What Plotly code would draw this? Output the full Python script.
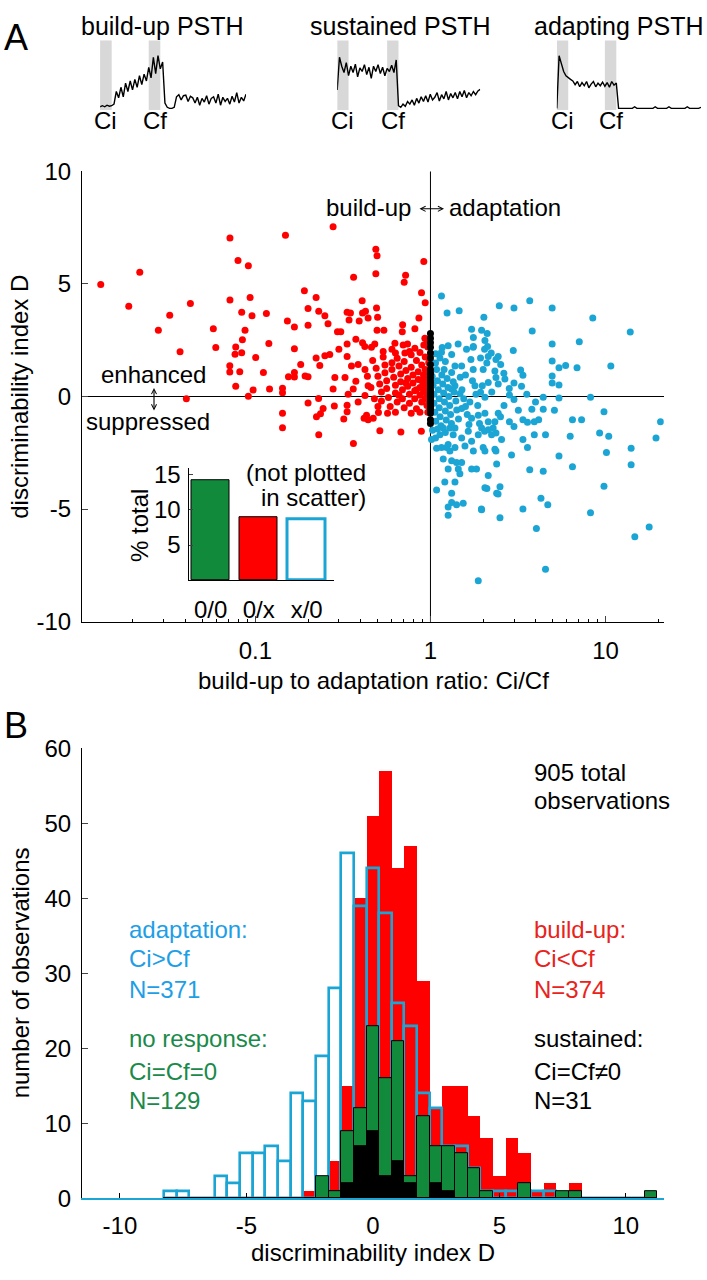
import plotly.graph_objects as go

W, H = 707, 1280
FONT = "Liberation Sans, Arial, Helvetica, sans-serif"
RED = "#ff0000"
BLUE = "#1ba5d4"
GREEN = "#128a3c"
BLUE_TXT = "#1e9ee6"
RED_TXT = "#e8231c"
GREEN_TXT = "#1a8a4a"

# ---------------- PSTH insets (normalised firing, one value per time bin) ----------------
BUILDUP_PSTH = [0.03, 0.05, 0.03, 0.06, 0.04, 0.05,
                0.08, 0.32, 0.2, 0.4, 0.22, 0.48, 0.32, 0.52, 0.35, 0.55, 0.4, 0.62, 0.45, 0.65, 0.52,
                0.78, 0.58, 0.97, 0.66, 1.0, 0.75,
                0.88, 0.1, 0.02, 0.0, 0.0, 0.02,
                0.22, 0.26, 0.16, 0.24, 0.25, 0.13, 0.23, 0.2, 0.1, 0.21, 0.06, 0.19, 0.12, 0.24, 0.08,
                0.19, 0.22, 0.1, 0.27, 0.06, 0.21, 0.13, 0.19, 0.08, 0.23, 0.12, 0.3, 0.1, 0.21, 0.14, 0.27]
SUSTAINED_PSTH = [0.35, 0.97,
                  0.8, 0.68, 0.87, 0.62, 0.8, 0.68, 0.84, 0.6, 0.77, 0.7, 0.83, 0.64, 0.78, 0.57, 0.8,
                  0.7, 0.83, 0.66, 0.78, 0.62, 0.76, 0.7, 0.82, 0.68, 0.92,
                  0.05, 0.02,
                  0.08, 0.04, 0.13, 0.08, 0.16, 0.06, 0.19, 0.1, 0.22, 0.13, 0.24, 0.12, 0.27, 0.16, 0.21,
                  0.3, 0.14, 0.26, 0.18, 0.32, 0.16, 0.28, 0.2, 0.3, 0.18, 0.32, 0.22, 0.34, 0.2, 0.3,
                  0.24, 0.32, 0.26, 0.33, 0.36]
ADAPTING_PSTH = [0.0, 1.0, 0.85, 0.7, 0.62, 0.58, 0.55,
                 0.52, 0.45, 0.51, 0.41, 0.49, 0.43, 0.51, 0.39, 0.46, 0.51, 0.41, 0.48, 0.43, 0.5, 0.42,
                 0.49, 0.4, 0.51, 0.44, 0.48,
                 0.0,
                 0, 0, 0, 0, 0, 0, 0.03, 0, 0, 0, 0, 0, 0, 0, 0, 0.03, 0, 0, 0, 0, 0, 0.03, 0, 0, 0, 0,
                 0, 0, 0, 0.03, 0, 0, 0, 0, 0, 0.02]
PSTH_TITLES = ["build-up PSTH", "sustained PSTH", "adapting PSTH"]
CI_WINDOWS = [(0, 5), (0, 5), (0, 5)]
CF_WINDOWS = [(21, 26), (22, 27), (21, 26)]

# ---------------- Scatter: log10(Ci/Cf) and discriminability D ----------------
RED_LOGRATIO = [-1.883, -1.66, -1.723, -1.371, -1.489, -1.554, -1.24, -1.43, -1.226, -1.394,
                -1.145, -0.828, -1.099, -1.04, -1.145, -1.03, -0.72, -0.653, -1.078, -1.019, -0.937,
                -0.699, -0.638, -1.059, -0.817, -0.777, -0.699, -1.074, -1.112, -0.923, -1.116,
                -1.078, -0.777, -0.998, -0.653, -1.146, -1.146, -1.089, -0.954, -0.741, -0.811,
                -0.777, -0.777, -0.716, -0.699, -0.632, -1.112, -1.013, -0.919, -0.845, -0.845,
                -1.04, -0.639, -0.699, -0.845, -0.845, -0.651, -0.628, -0.638,
                -0.44, -0.549, -0.495, -0.379, -0.327, -0.297, -0.245, -0.052,
                -0.556, -0.312, -0.305, -0.038, -0.439, -0.312, -0.142, -0.15, -0.051, -0.03,
                -0.603, -0.585, -0.476, -0.457, -0.465, -0.407, -0.388, -0.371, -0.356, -0.308,
                -0.302, -0.39, -0.066, -0.159, -0.161, -0.089, -0.305, -0.266, -0.531, -0.512,
                -0.426, -0.476, -0.388, -0.375, -0.337, -0.318, -0.523, -0.575, -0.603, -0.203,
                -0.156, -0.131, -0.089, -0.038, -0.032, -0.2, -0.146, -0.546, -0.556, -0.613,
                -0.476, -0.476, -0.426, -0.365, -0.356, -0.289, -0.169,
                -0.476, -0.451, -0.413, -0.374, -0.488, -0.441, -0.374, -0.356, -0.413, -0.47,
                -0.33, -0.31, -0.3, -0.29, -0.28, -0.28, -0.27, -0.26, -0.25, -0.25, -0.24, -0.23,
                -0.22, -0.22, -0.21, -0.2, -0.2, -0.19, -0.19, -0.18, -0.17, -0.17, -0.16, -0.16,
                -0.15, -0.15, -0.14, -0.13, -0.13, -0.12, -0.12, -0.11, -0.11, -0.1, -0.1, -0.09,
                -0.09, -0.08, -0.08, -0.07, -0.07, -0.06, -0.06, -0.05, -0.05, -0.04, -0.04, -0.04,
                -0.03, -0.03, -0.03, -0.02, -0.02, -0.02, -0.02, -0.01, -0.01, -0.01, -0.01, -0.01,
                -0.34, -0.32, -0.3, -0.36, -0.27, -0.22, -0.12, -0.06, -0.015, -0.02, -0.11, -0.2,
                -0.06, -0.015, -0.26, -0.18, -0.14, -0.08, -0.05, -0.035]
RED_D = [4.97, 5.52, 4.01, 4.13, 3.61, 2.94, 3.01, 1.99, 2.17, -0.1,
         7.04, 7.16, 6.04, 5.8, 4.28, 4.4, 4.7, 4.4, 3.74, 3.58, 3.68,
         3.91, 3.78, 2.94, 3.35, 3.09, 3.16, 2.52, 2.2, 2.35, 1.88,
         1.94, 2.12, 1.73, 1.71, 1.36, 1.09, 1.1, 1.06, 1.42, 0.88,
         1.06, 0.86, 0.91, 0.87, 1.38, 0.45, 0.29, 0.33, 0.36, 0.16,
         0.01, -0.09, -0.29, -0.75, -1.39, -0.9, -0.77, -1.7,
         -2.09, -0.42, -1.0, -0.97, -0.97, -0.71, -0.75, -1.55,
         7.54, 6.54, 6.25, 5.99, 5.3, 5.45, 5.38, 5.07, 4.61, 4.16,
         3.59, 3.23, 3.74, 3.71, 3.4, 3.35, 3.71, 3.78, 3.49, 3.93,
         3.52, 4.25, 3.48, 3.19, 2.87, 3.01, 2.94, 2.94, 2.87, 2.87,
         2.54, 2.33, 2.39, 2.22, 2.19, 2.33, 2.1, 1.86, 1.81, 2.36,
         2.29, 2.33, 2.14, 2.29, 2.58, 1.93, 1.93, 0.84, 0.33, -0.53,
         -0.39, -0.68, 0.67, -0.83, -1.04, -1.52, -1.58,
         1.78, 1.35, 1.42, 1.2, 0.84, 0.33, 0.04, 0.48, -0.25, 0.1,
         1.6, 1.25, 0.9, 0.55, 0.2, -0.2, 1.75, 1.05, 0.7, 0.35, -0.05, -0.45,
         1.5, 1.2, 0.85, 0.5, 0.15, -0.25, 1.7, 1.35, 1.0, 0.65, 0.3, -0.1,
         -0.5, 1.55, 1.15, 0.8, 0.45, 0.1, -0.3, 1.85, 1.3, 0.95, 0.6, 0.25,
         -0.1, -0.55, 1.6, 1.1, 0.75, 0.4, 0.05, -0.25, 1.4, 0.95, 0.55, 0.2,
         -0.1, 1.75, 1.2, 0.8, 0.35, 0.0, -0.4, 1.5, 1.0, 0.6, 0.15, -0.2,
         0.4, -0.1, -0.45, 0.9, 2.0, 2.1, 2.0, 1.95, 2.2, 2.5, -0.75, -0.7,
         -0.7, -0.7, 1.4, 0.05, 0.6, 0.3, 0.7, 0.45]

BLUE_LOGRATIO = [0.063, 0.393, 0.095, 0.164, 0.305, 0.235, 0.292, 0.324, 0.158, 0.101, 0.067,
                 0.121, 0.063, 0.206, 0.244, 0.311, 0.326, 0.33, 0.387, 0.401, 0.368, 0.419,
                 0.029, 0.054, 0.078, 0.121, 0.14, 0.178, 0.231, 0.244, 0.286, 0.301, 0.33,
                 0.387, 0.14, 0.121, 0.169, 0.225, 0.286, 0.254, 0.311, 0.178, 0.235, 0.273,
                 0.311, 0.33, 0.368, 0.387, 0.358, 0.029, 0.054, 0.063, 0.101, 0.14, 0.178,
                 0.197, 0.235, 0.301, 0.368,
                 0.006, 0.073, 0.111, 0.14, 0.216, 0.292, 0.273, 0.33, 0.349, 0.035, 0.092,
                 0.111, 0.073, 0.121, 0.149, 0.178, 0.159, 0.101, 0.168, 0.235, 0.263, 0.33,
                 0.311, 0.378, 0.406, 0.397, 0.311, 0.378, 0.082, 0.14, 0.035, 0.121, 0.121,
                 0.149, 0.187, 0.101, 0.101, 0.292, 0.397, 0.273,
                 0.477, 0.734, 0.502, 0.579, 0.644, 0.708, 0.811, 0.863, 0.991, 1.314, 0.528,
                 0.554, 0.593, 0.618, 0.4, 0.451, 0.477, 0.374, 0.309, 0.593, 0.657, 0.528,
                 0.798, 0.966, 1.018, 1.288, 0.245, 0.374, 0.463, 0.554, 0.734, 1.005, 1.146,
                 1.146, 0.567, 0.644, 0.811, 0.322, 0.386, 0.631, 0.991, 0.67, 0.291, 0.528,
                 0.914, 0.605, 1.249, 1.167, 0.657,
                 0.477, 0.567, 0.695, 0.927, 1.141, 0.85, 0.695, 0.245, 0.473, 0.581, 0.695,
                 0.734, 0.772, 0.837, 1.03, 0.515, 0.528, 0.477, 0.695, 0.695, 0.734, 0.322,
                 0.374, 0.347, 0.309, 0.245, 0.374, 0.425, 0.296, 0.644, 0.914, 0.451,
                 0.01, 0.015, 0.02, 0.02, 0.025, 0.03, 0.035, 0.04, 0.045, 0.05, 0.05, 0.055,
                 0.06, 0.065, 0.07, 0.075, 0.08, 0.085, 0.09, 0.095, 0.1, 0.105, 0.11, 0.115,
                 0.12, 0.13, 0.135, 0.145, 0.15, 0.16, 0.17, 0.18, 0.19, 0.2, 0.21, 0.22, 0.24,
                 0.26, 0.27, 0.28, 0.012, 0.04, 0.085, 0.13, 0.01, 0.03, 0.085, 0.2, 0.35, 0.42,
                 0.45, 0.55, 0.6, 0.52]
BLUE_D = [4.46, 4.03, 3.71, 3.81, 3.52, 2.99, 2.94, 2.8, 2.33, 2.25, 2.17,
          1.86, 1.96, 2.1, 2.19, 2.48, 2.22, 1.78, 1.78, 1.42, 1.13, 1.03,
          1.49, 1.71, 1.2, 1.06, 1.35, 1.35, 1.64, 1.2, 1.71, 1.2, 0.62,
          0.55, 0.48, 0.33, 0.12, -0.25, 0.19, 0.48, -0.03, -0.53, -0.97, -0.83,
          -0.75, -1.12, -1.12, -0.75, -1.4, -1.84, -1.7, -2.27, -2.13, -2.27, -1.84,
          -2.2, -1.99, -2.27, -2.35,
          -1.91, -1.4, -1.4, -1.4, -1.55, -1.4, -1.7, -1.48, -1.7, -2.3, -2.27,
          -2.42, -2.78, -2.86, -2.93, -2.93, -3.22, -3.22, -3.43, -3.22, -3.22, -3.51,
          -2.42, -3.0, -1.91, -4.01, -4.06, -4.3, -3.8, -3.8, -4.16, -4.3, -4.71,
          -4.81, -4.74, -4.91, -5.28, -5.03, -5.39, -8.19,
          -0.13, -0.07, -0.61, -0.57, -0.57, -0.61, -1.04, -1.04, -0.68, -1.12, -1.04,
          -1.14, -1.12, -1.04, -0.9, -1.12, -1.33, -1.62, -1.55, -1.7, -1.7, -1.91,
          -1.77, -1.62, -1.77, -1.84, -2.42, -2.42, -2.6, -2.27, -2.64, -2.49, -2.3,
          -3.03, -3.26, -3.32, -3.12, -4.09, -4.33, -4.52, -3.99, -4.81, -5.0, -5.0,
          -5.17, -5.86, -5.8, -6.23, -7.67,
          3.93, 4.25, 3.93, 3.48, 2.86, 2.43, 2.33, 2.62, 2.04, 2.91, 1.57,
          1.28, 1.38, 1.28, 1.35, 1.17, 0.94, 0.6, 0.91, 0.6, 0.51, 1.49,
          1.64, 1.93, 2.1, 2.22, 0.84, 0.77, 0.48, -0.03, -0.03, 0.07,
          0.9, 0.5, 0.1, -0.3, -0.7, -1.1, 1.2, 0.7, 0.3, -0.1, -0.5, -0.9,
          -1.3, 0.95, 0.55, 0.15, -0.25, -0.65, -1.05, 0.8, 0.4, 0.0, -0.4, -0.8,
          -1.2, 0.65, 0.2, -0.2, -0.6, -1.0, 0.85, 0.3, -0.1, -0.45, -0.8, -1.25, 0.7,
          0.1, -0.4, -1.2, -1.5, -1.45, -1.6, -1.7, 1.5, 1.9, 1.55, 0.95, 0.2, -0.4,
          0.35, 0.1, -0.25, 0.45]

SUSTAINED_RATIO = 1.0
BLACK_D = [2.8, 2.58, 2.39, 2.19, 1.93, 1.71, 1.42, 1.2, 0.99, 0.84, 0.7, 0.48, 0.33, 0.19,
           0.04, -0.1, -0.25, -0.39, -0.54, -0.75, -1.04, -1.2, -0.6, -0.45, -0.3, -0.15,
           0.1, 0.25, 0.6, 1.05, 0.0]

# ---------------- Inset bar chart (% of total, not plotted in scatter) ----------------
INSET_CATS = ["0/0", "0/x", "x/0"]
INSET_PCT = [14.25, 9.0, 8.7]

# ---------------- Histogram of D ----------------
BIN_WIDTH = 0.5
BIN_CENTERS = [-8.0, -7.5, -7.0, -6.5, -6.0, -5.5, -5.0, -4.5, -4.0, -3.5, -3.0, -2.5, -2.0,
               -1.5, -1.0, -0.5, 0.0, 0.5, 1.0, 1.5, 2.0, 2.5, 3.0, 3.5, 4.0, 4.5, 5.0, 5.5,
               6.0, 6.5, 7.0, 7.5, 8.0, 8.5, 9.0, 9.5, 10.0, 10.5, 11.0]
ADAPT_COUNTS = [1, 1, 0, 0, 3, 2, 6, 6, 7, 5, 14, 13, 19, 28, 46, 39, 44, 38, 26, 23,
                14, 12, 7, 7, 4, 1, 1, 1, 1, 1, 1, 0, 0, 0, 0, 0, 0, 0, 0]
BUILD_COUNTS = [0, 0, 0, 0, 0, 0, 0, 0, 0, 0, 0, 1, 1, 5, 15, 40, 51, 57, 44, 47,
                29, 12, 15, 15, 11, 8, 3, 8, 6, 1, 2, 1, 2, 0, 0, 0, 0, 0, 0]
NORESP_COUNTS = [0, 0, 0, 0, 0, 0, 0, 0, 0, 0, 0, 0, 3, 1, 9, 12, 23, 16, 21, 3,
                 11, 7, 7, 6, 4, 1, 0, 0, 2, 0, 0, 1, 1, 0, 0, 0, 0, 0, 1]
SUST_COUNTS = [0, 0, 0, 0, 0, 0, 0, 0, 0, 0, 0, 0, 0, 0, 2, 7, 9, 3, 5, 2,
               0, 2, 1, 0, 0, 0, 0, 0, 0, 0, 0, 0, 0, 0, 0, 0, 0, 0, 0]

SCATTER_YTICKS = [-10, -5, 0, 5, 10]
HIST_XTICKS = [-10, -5, 0, 5, 10]
HIST_YTICKS = [0, 10, 20, 30, 40, 50, 60]


def fx(p):
    return p / W


def fy(p):
    return 1 - p / H


def lbl(v):
    return str(v)  # plain hyphen for negatives, as in the original


fig = go.Figure()

# PSTH traces
psth_axes = [("x3", "y3"), ("x4", "y4"), ("x5", "y5")]
for data, (xa, ya) in zip([BUILDUP_PSTH, SUSTAINED_PSTH, ADAPTING_PSTH], psth_axes):
    fig.add_trace(go.Scatter(x=list(range(len(data))), y=data, mode="lines",
                             line=dict(color="black", width=1.4), xaxis=xa, yaxis=ya,
                             hoverinfo="skip"))

# Scatter
fig.add_trace(go.Scatter(x=[10 ** v for v in RED_LOGRATIO], y=RED_D, mode="markers",
                         marker=dict(color=RED, size=7, line=dict(width=0)), xaxis="x", yaxis="y"))
fig.add_trace(go.Scatter(x=[10 ** v for v in BLUE_LOGRATIO], y=BLUE_D, mode="markers",
                         marker=dict(color=BLUE, size=7, line=dict(width=0)), xaxis="x", yaxis="y"))
fig.add_trace(go.Scatter(x=[SUSTAINED_RATIO] * len(BLACK_D), y=BLACK_D, mode="markers",
                         marker=dict(color="black", size=7, line=dict(width=0)), xaxis="x", yaxis="y"))

# Inset bars
fig.add_trace(go.Bar(x=[1, 2, 3], y=INSET_PCT, width=0.8,
                     marker=dict(color=[GREEN, RED, "white"],
                                 line=dict(color=["black", "black", BLUE], width=[1, 1, 3])),
                     xaxis="x6", yaxis="y6"))

# Histogram
fig.add_trace(go.Bar(x=BIN_CENTERS, y=BUILD_COUNTS, width=BIN_WIDTH,
                     marker=dict(color=RED, line=dict(width=0)), xaxis="x2", yaxis="y2"))
fig.add_trace(go.Bar(x=BIN_CENTERS, y=ADAPT_COUNTS, width=BIN_WIDTH,
                     marker=dict(color="rgba(0,0,0,0)", line=dict(color=BLUE, width=2.6)),
                     xaxis="x2", yaxis="y2"))
fig.add_trace(go.Bar(x=BIN_CENTERS, y=NORESP_COUNTS, width=BIN_WIDTH,
                     marker=dict(color=GREEN, line=dict(color="black", width=1)),
                     xaxis="x2", yaxis="y2"))
fig.add_trace(go.Bar(x=BIN_CENTERS, y=SUST_COUNTS, width=BIN_WIDTH,
                     marker=dict(color="black", line=dict(color="black", width=1)),
                     xaxis="x2", yaxis="y2"))

tickfont = dict(family=FONT, size=24, color="black")

minor_vals = ([k / 100 for k in range(2, 10)] + [k / 10 for k in range(2, 10)]
              + list(range(2, 10)) + [20])

layout = dict(
    width=W, height=H, margin=dict(l=0, r=0, t=0, b=0),
    paper_bgcolor="white", plot_bgcolor="rgba(0,0,0,0)",
    showlegend=False, barmode="overlay", bargap=0,
    font=dict(family=FONT, size=24, color="black"),
    xaxis=dict(domain=[fx(82), fx(663.7)], anchor="y", type="log", range=[-1.99, 1.332],
               tickvals=[0.1, 1, 10], ticktext=["0.1", "1", "10"], ticks="inside", ticklen=6,
               minor=dict(tickvals=minor_vals, ticks="inside", ticklen=3, tickcolor="black"),
               showline=True, linecolor="black", linewidth=1, showgrid=False, zeroline=False,
               tickfont=tickfont, ticklabelstandoff=8),
    yaxis=dict(domain=[fy(620.7), fy(160.7)], anchor="x", range=[-10, 10],
               tickvals=SCATTER_YTICKS, ticktext=[lbl(v) for v in SCATTER_YTICKS],
               ticks="inside", ticklen=6, showline=True,
               linecolor="black", linewidth=1, showgrid=False, zeroline=True,
               zerolinecolor="black", zerolinewidth=1, tickfont=tickfont, ticklabelstandoff=5),
    xaxis2=dict(domain=[fx(82), fx(663.7)], anchor="y2", range=[-11.5, 11.5],
                tickvals=HIST_XTICKS, ticktext=[lbl(v) for v in HIST_XTICKS],
                ticks="inside", ticklen=5, tickcolor="black",
                showline=True, linecolor=BLUE, linewidth=2, showgrid=False, zeroline=False,
                tickfont=tickfont, ticklabelstandoff=5),
    yaxis2=dict(domain=[fy(1210), fy(750)], anchor="x2", range=[0, 60],
                tickvals=HIST_YTICKS, ticks="inside", ticklen=6, showline=True,
                linecolor="black", linewidth=1, showgrid=False, zeroline=False,
                tickfont=tickfont, ticklabelstandoff=5),
    xaxis6=dict(domain=[fx(188.5), fx(333.6)], anchor="y6", range=[0.54, 3.56],
                tickvals=[1, 2, 3], ticktext=INSET_CATS, ticks="", showline=True,
                linecolor="black", linewidth=1, showgrid=False, zeroline=False,
                tickfont=tickfont, ticklabelstandoff=8),
    yaxis6=dict(domain=[fy(578.5), fy(464)], anchor="x6", range=[0, 15.9],
                tickvals=[5, 10, 15], ticks="inside", ticklen=4, showline=True,
                linecolor="black", linewidth=1, showgrid=False, zeroline=False,
                tickfont=tickfont, ticklabelstandoff=2),
)
psth_px = [(100.1, 246), (337.2, 480.2), (556.8, 701)]
for i, (x0, x1) in enumerate(psth_px):
    n = 3 + i
    layout[f"xaxis{n}"] = dict(domain=[fx(x0), fx(x1)], anchor=f"y{n}", range=[0, 63],
                               visible=False)
    layout[f"yaxis{n}"] = dict(domain=[fy(98), fy(27)], anchor=f"x{n}", range=[-0.03, 1.29],
                               visible=False)
fig.update_layout(**layout)

shapes = []
for i in range(3):
    n = 3 + i
    for (a, b) in (CI_WINDOWS[i], CF_WINDOWS[i]):
        shapes.append(dict(type="rect", xref=f"x{n}", yref=f"y{n} domain", x0=a, x1=b,
                           y0=0, y1=1, fillcolor="#d8d8d8", line=dict(width=0), layer="below"))
shapes.append(dict(type="line", xref="x", yref="y", x0=SUSTAINED_RATIO, x1=SUSTAINED_RATIO,
                   y0=-10, y1=10, line=dict(color="black", width=1), layer="below"))
fig.update_layout(shapes=shapes)

ann = []


def text(s, x, y, size=24, color="black", xanchor="center", angle=0, xref="paper", xv=None):
    ann.append(dict(text=s, x=(fx(x) if xv is None else xv), y=fy(y), xref=xref, yref="paper",
                    xanchor=xanchor, yanchor="middle", showarrow=False, textangle=angle,
                    font=dict(family=FONT, size=size, color=color)))


def double_arrow(x0, y0, x1, y1):
    # two-headed thin arrow; head at (x1, y1), tail offset given in screen pixels
    ann.append(dict(text="", x=fx(x1), y=fy(y1), xref="paper", yref="paper",
                    ax=x0 - x1, ay=y0 - y1, showarrow=True,
                    arrowhead=5, startarrowhead=5, arrowside="end+start", arrowsize=0.9,
                    startarrowsize=0.9, arrowwidth=1.1, arrowcolor="black",
                    standoff=0, startstandoff=0))


text("A", 2, 24, size=36, xanchor="left")
text("B", 2, 727, size=36, xanchor="left")
text(PSTH_TITLES[0], 79, 12, size=25, xanchor="left")
text(PSTH_TITLES[1], 308, 12, size=25, xanchor="left")
text(PSTH_TITLES[2], 532, 12, size=25, xanchor="left")
for i in range(3):
    n = 3 + i
    ci = CI_WINDOWS[i]
    cf = CF_WINDOWS[i]
    text("Ci", 0, 109, xref=f"x{n}", xv=(ci[0] + ci[1]) / 2)
    text("Cf", 0, 109, xref=f"x{n}", xv=(cf[0] + cf[1]) / 2)

text("build-up", 413, 198, xanchor="right")
double_arrow(418, 199, 444, 199)
text("adaptation", 447, 198, xanchor="left")
text("enhanced", 153, 368)
double_arrow(154, 381, 154, 405)
text("suppressed", 148, 416)
text("(not plotted", 368, 468, xanchor="right")
text("in scatter)", 368, 494, xanchor="right")
text("% total", 140, 523, angle=-90)
text("discriminability index D", 20, 391, angle=-90)
text("build-up to adaptation ratio: Ci/Cf", 373, 681)

text("905 total", 532, 775, xanchor="left")
text("observations", 532, 803, xanchor="left")
text("adaptation:", 127, 935, color=BLUE_TXT, xanchor="left")
text("Ci>Cf", 127, 965, color=BLUE_TXT, xanchor="left")
text("N=371", 127, 997, color=BLUE_TXT, xanchor="left")
text("build-up:", 532, 935, color=RED_TXT, xanchor="left")
text("Ci<Cf", 532, 965, color=RED_TXT, xanchor="left")
text("N=374", 532, 997, color=RED_TXT, xanchor="left")
text("no response:", 127, 1047, color=GREEN_TXT, xanchor="left")
text("Ci=Cf=0", 127, 1080, color=GREEN_TXT, xanchor="left")
text("N=129", 127, 1110, color=GREEN_TXT, xanchor="left")
text("sustained:", 532, 1047, xanchor="left")
text("Ci=Cf≠0", 532, 1080, xanchor="left")
text("N=31", 532, 1110, xanchor="left")
text("number of observations", 20, 980, angle=-90)
text("discriminability index D", 373, 1265)

fig.update_layout(annotations=ann)

fig.write_html("out.html", config={"displayModeBar": False},
               post_script="document.body.style.margin='0';")
